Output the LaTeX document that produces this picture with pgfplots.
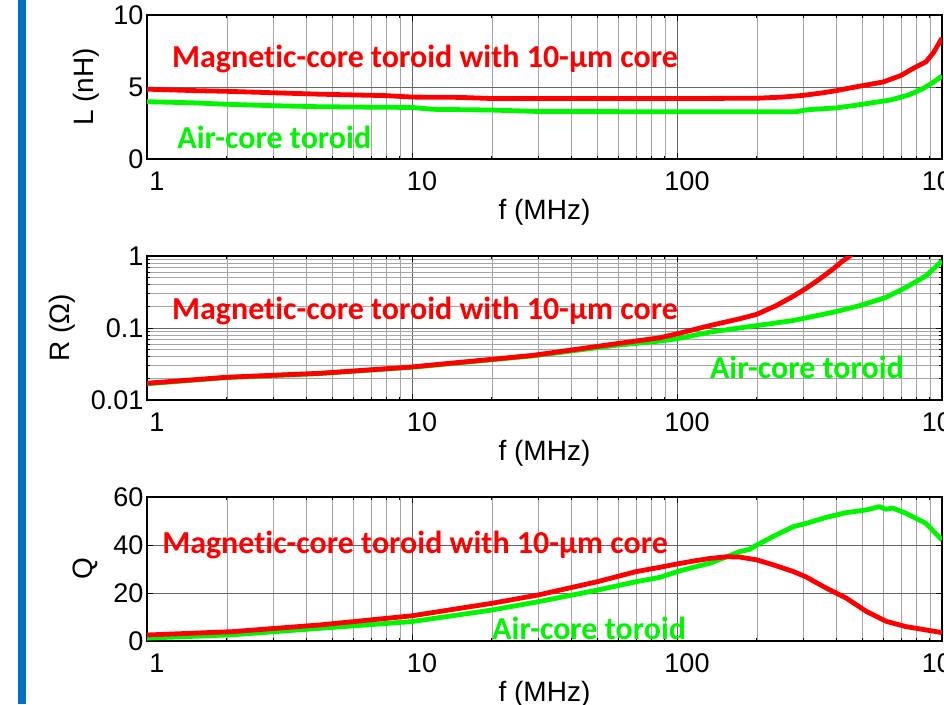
\documentclass[border=0pt]{standalone}
\usepackage{fontspec}
\setmainfont{Liberation Sans}
\newfontfamily\calb[Ligatures=NoCommon]{Carlito}
\usepackage{pgfplots}
\pgfplotsset{compat=1.18}
\definecolor{barblue}{RGB}{0,112,192}
\definecolor{cred}{RGB}{255,0,0}
\definecolor{cgreen}{RGB}{0,245,0}

\pgfplotsset{
  every axis/.append style={
    scale only axis, width=795pt, height=144pt,
    xmin=1, xmax=1000,
    xtick={1,10,100,1000}, xticklabels={1,10,100,1000},
    grid=both,
    major grid style={black!60, line width=0.6pt},
    minor grid style={black!35, line width=0.5pt},
    tick align=inside,
    major tick length=6pt, minor tick length=3pt,
    tick style={black, line width=0.8pt},
    axis line style={black, line width=1.3pt},
    tick label style={font=\fontsize{27}{32}\selectfont},
    label style={font=\fontsize{28}{33}\selectfont},
    xticklabel style={anchor=base, yshift=-31pt, xshift=10pt},
    xlabel={f (MHz)},
    xlabel style={at={(axis description cs:0.5,-0.37)}, anchor=center},
  },
  every axis plot/.append style={line width=4.8pt, line join=round, mark=none},
}
\tikzset{annot/.style={anchor=west, inner sep=0pt, font=\calb\bfseries\fontsize{32}{37}\selectfont}}

\begin{document}
\begin{tikzpicture}
\useasboundingbox (0,0) rectangle (944pt,-704pt);
\fill[barblue] (18pt,0) rectangle (26pt,-704pt);

% ---------- L ----------
\begin{semilogxaxis}[at={(147pt,-159pt)}, anchor=south west,
  ymin=0, ymax=10, ytick={0,5,10}, yticklabels={0,5,10},
  ylabel={L (nH)},
  ylabel style={at={(axis description cs:-0.077,0.5)}, anchor=center}]
\addplot[cred] coordinates {(1,4.85) (1.5,4.75) (2,4.7) (3,4.6) (4.5,4.5) (6,4.45) (8,4.4) (10,4.3) (15,4.28) (20,4.2) (50,4.2) (100,4.2) (200,4.22) (250,4.3) (300,4.42) (350,4.58) (400,4.75) (470,5.0) (600,5.35) (700,5.8) (780,6.3) (870,6.75) (930,7.4) (1000,8.4)};
\addplot[cgreen] coordinates {(1,3.98) (1.5,3.9) (2,3.8) (3,3.7) (4.5,3.63) (7,3.6) (10,3.58) (12,3.45) (20,3.4) (30,3.3) (100,3.28) (280,3.28) (310,3.42) (400,3.55) (480,3.75) (640,4.1) (750,4.45) (850,4.9) (930,5.35) (1000,5.76)};
\node[annot, text=cred] at (axis description cs:0.0314,0.694) {Magnetic-core toroid with 10-µm core};
\node[annot, text=cgreen] at (axis description cs:0.038,0.149) {Air-core toroid};
\end{semilogxaxis}

% ---------- R ----------
\begin{loglogaxis}[at={(147pt,-400pt)}, anchor=south west,
  ymin=0.01, ymax=1, ytick={0.01,0.1,1}, yticklabels={0.01,0.1,1},
  ylabel={R (Ω)},
  ylabel style={at={(axis description cs:-0.107,0.5)}, anchor=center}]
\addplot[cgreen] coordinates {(1,0.0168) (2,0.0205) (4.5,0.0233) (10,0.0285) (28.6,0.041) (60,0.058) (86,0.0658) (100,0.071) (133,0.0877) (200,0.108) (274,0.127) (387,0.165) (488,0.204) (615,0.266) (731,0.366) (870,0.53) (1000,0.853)};
\addplot[cred] coordinates {(1,0.0171) (2,0.0207) (4.5,0.0235) (10,0.0288) (28.6,0.0417) (60,0.061) (86,0.0731) (100,0.083) (133,0.108) (172,0.134) (200,0.155) (237,0.205) (274,0.275) (307,0.355) (345,0.477) (387,0.655) (422,0.853) (454,1.03) (480,1.2)};
\node[annot, text=cred] at (axis description cs:0.0314,0.618) {Magnetic-core toroid with 10-µm core};
\node[annot, text=cgreen] at (axis description cs:0.708,0.229) {Air-core toroid};
\end{loglogaxis}

% ---------- Q ----------
\begin{semilogxaxis}[at={(147pt,-641pt)}, anchor=south west,
  ymin=0, ymax=60, ytick={0,20,40,60}, yticklabels={0,20,40,60},
  ylabel={Q},
  ylabel style={at={(axis description cs:-0.078,0.5)}, anchor=center}]
\addplot[cgreen] coordinates {(1,1.2) (2.1,2.6) (4.5,5.3) (10,8.1) (20,12.9) (30,16.4) (50,21.2) (70,24.7) (86,26.5) (100,28.9) (115,30.7) (133,32.4) (154,35.1) (172,37.2) (188,38.2) (200,40.0) (230,43.5) (274,47.6) (307,49.0) (365,51.5) (435,53.5) (517,54.6) (580,56.0) (615,54.9) (652,55.4) (731,53.2) (870,49.0) (1000,42.1)};
\addplot[cred] coordinates {(1,2.5) (2.1,3.9) (4.5,6.7) (10,10.5) (20,15.7) (30,19.2) (50,24.7) (70,28.9) (86,30.7) (100,32.1) (115,33.3) (133,34.4) (154,35.1) (172,35.0) (200,33.8) (230,31.8) (274,29.0) (307,26.7) (365,22.1) (435,17.9) (517,12.4) (615,8.2) (731,6.0) (870,4.6) (1000,3.5)};
\node[annot, text=cred] at (axis description cs:0.019,0.67) {Magnetic-core toroid with 10-µm core};
\node[annot, text=cgreen] at (axis description cs:0.434,0.09) {Air-core toroid};
\end{semilogxaxis}
\end{tikzpicture}
\end{document}
